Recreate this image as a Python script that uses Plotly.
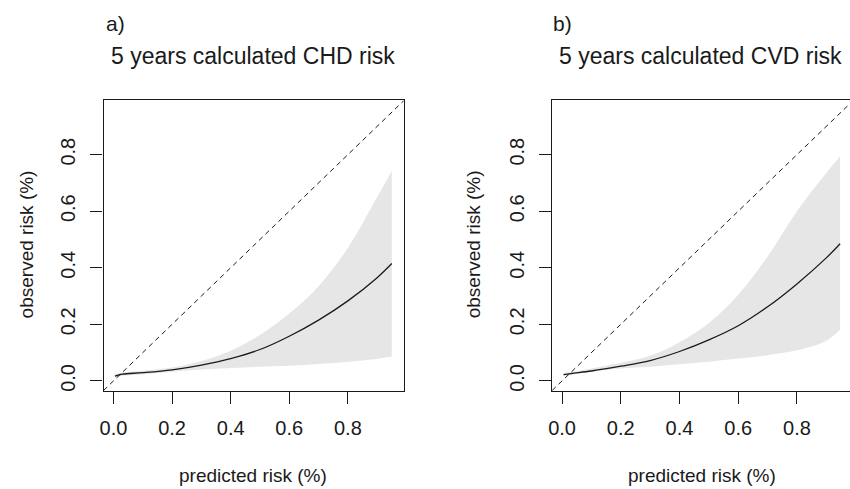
import plotly.graph_objects as go

W, H = 850, 489

# Panel a: 5-year CHD risk, calibration curve with confidence band
chd_x = [0.005, 0.03, 0.1, 0.2, 0.3, 0.4, 0.5, 0.6, 0.7, 0.8, 0.9, 0.95]
chd_fit = [0.017, 0.024, 0.029, 0.039, 0.056, 0.079, 0.111, 0.158, 0.215, 0.283, 0.365, 0.415]
chd_upper = [0.024, 0.030, 0.036, 0.047, 0.070, 0.107, 0.162, 0.238, 0.335, 0.470, 0.650, 0.742]
chd_lower = [0.010, 0.018, 0.023, 0.032, 0.040, 0.046, 0.050, 0.054, 0.060, 0.067, 0.078, 0.086]

# Panel b: 5-year CVD risk
cvd_x = [0.005, 0.03, 0.1, 0.2, 0.3, 0.4, 0.5, 0.6, 0.7, 0.8, 0.9, 0.947]
cvd_fit = [0.022, 0.026, 0.035, 0.052, 0.072, 0.104, 0.145, 0.195, 0.262, 0.343, 0.435, 0.485]
cvd_upper = [0.028, 0.032, 0.044, 0.064, 0.089, 0.137, 0.205, 0.305, 0.440, 0.600, 0.735, 0.794]
cvd_lower = [0.017, 0.021, 0.033, 0.044, 0.050, 0.059, 0.068, 0.079, 0.091, 0.108, 0.142, 0.182]

tick_vals = [0.0, 0.2, 0.4, 0.6, 0.8]
tick_text = ["0.0", "0.2", "0.4", "0.6", "0.8"]
ref_line = [-0.1, 1.1]

FONT = "Liberation Sans, Arial, Helvetica, sans-serif"
BAND = "#e6e6e6"
INK = "#1a1a1a"


def px(x):
    return x / W


def py(y):
    return 1 - y / H


fig = go.Figure()


def add_panel(xs, fit, lo, hi, xa, ya):
    fig.add_trace(go.Scatter(x=xs, y=lo, mode="lines", line=dict(width=0, shape="spline"),
                             xaxis=xa, yaxis=ya, hoverinfo="skip", showlegend=False))
    fig.add_trace(go.Scatter(x=xs, y=hi, mode="lines", line=dict(width=0, shape="spline"),
                             fill="tonexty", fillcolor=BAND,
                             xaxis=xa, yaxis=ya, hoverinfo="skip", showlegend=False))
    fig.add_trace(go.Scatter(x=ref_line, y=ref_line, mode="lines",
                             line=dict(color=INK, width=1, dash="5px,4px"),
                             xaxis=xa, yaxis=ya, showlegend=False))
    fig.add_trace(go.Scatter(x=xs, y=fit, mode="lines",
                             line=dict(color=INK, width=1.3, shape="spline"),
                             xaxis=xa, yaxis=ya, showlegend=False))


add_panel(chd_x, chd_fit, chd_lower, chd_upper, "x", "y")
add_panel(cvd_x, cvd_fit, cvd_lower, cvd_upper, "x2", "y2")

y_dom = [py(392), py(100.7)]
y_rng = [-0.0364, 0.9915]

common_x = dict(showgrid=False, zeroline=False, showline=True, linecolor=INK, linewidth=1.3,
                ticks="outside", ticklen=12, tickwidth=1.2, tickcolor=INK,
                tickvals=tick_vals, ticktext=tick_text,
                tickfont=dict(family=FONT, size=20, color=INK), ticklabelstandoff=7)
common_y = dict(showgrid=False, zeroline=False, showline=True, linecolor=INK, linewidth=1.3,
                ticks="outside", ticklen=12, tickwidth=1.2, tickcolor=INK,
                tickvals=tick_vals, ticktext=tick_text, tickangle=-90,
                tickfont=dict(family=FONT, size=20, color=INK), ticklabelstandoff=7,
                domain=y_dom, range=y_rng)

fig.update_layout(
    width=W, height=H,
    margin=dict(l=0, r=0, t=0, b=0),
    paper_bgcolor="white", plot_bgcolor="white",
    showlegend=False,
    xaxis=dict(common_x, domain=[px(100), px(401.7)], range=[-0.034, 0.991],
               mirror=True, anchor="y"),
    yaxis=dict(common_y, mirror=True, anchor="x"),
    # right-hand panel runs past the page edge, so its right border is not drawn
    xaxis2=dict(common_x, domain=[px(550.7), 1.0], range=[-0.0339, 0.9807],
                mirror=True, anchor="y2"),
    yaxis2=dict(common_y, mirror=False, anchor="x2"),
)

txt = dict(family=FONT, color=INK)
annos = [
    dict(text="a)", x=px(100), y=py(24), xanchor="left", yanchor="middle", font=dict(txt, size=21)),
    dict(text="5 years calculated CHD risk", x=px(250), y=py(56), xanchor="center",
         yanchor="middle", font=dict(txt, size=23)),
    dict(text="b)", x=px(550), y=py(24), xanchor="left", yanchor="middle", font=dict(txt, size=21)),
    dict(text="5 years calculated CVD risk", x=px(700), y=py(56), xanchor="center",
         yanchor="middle", font=dict(txt, size=23)),
    dict(text="predicted risk (%)", x=px(250), y=py(476), xanchor="center", yanchor="middle",
         font=dict(txt, size=19)),
    dict(text="predicted risk (%)", x=px(701.5), y=py(476), xanchor="center", yanchor="middle",
         font=dict(txt, size=19)),
    dict(text="observed risk (%)", x=px(23), y=py(245), xanchor="center", yanchor="middle",
         textangle=-90, font=dict(txt, size=19)),
    dict(text="observed risk (%)", x=px(472), y=py(245), xanchor="center", yanchor="middle",
         textangle=-90, font=dict(txt, size=19)),
]
for a in annos:
    a.update(xref="paper", yref="paper", showarrow=False)
fig.update_layout(annotations=annos)

fig.write_html("out.html")
